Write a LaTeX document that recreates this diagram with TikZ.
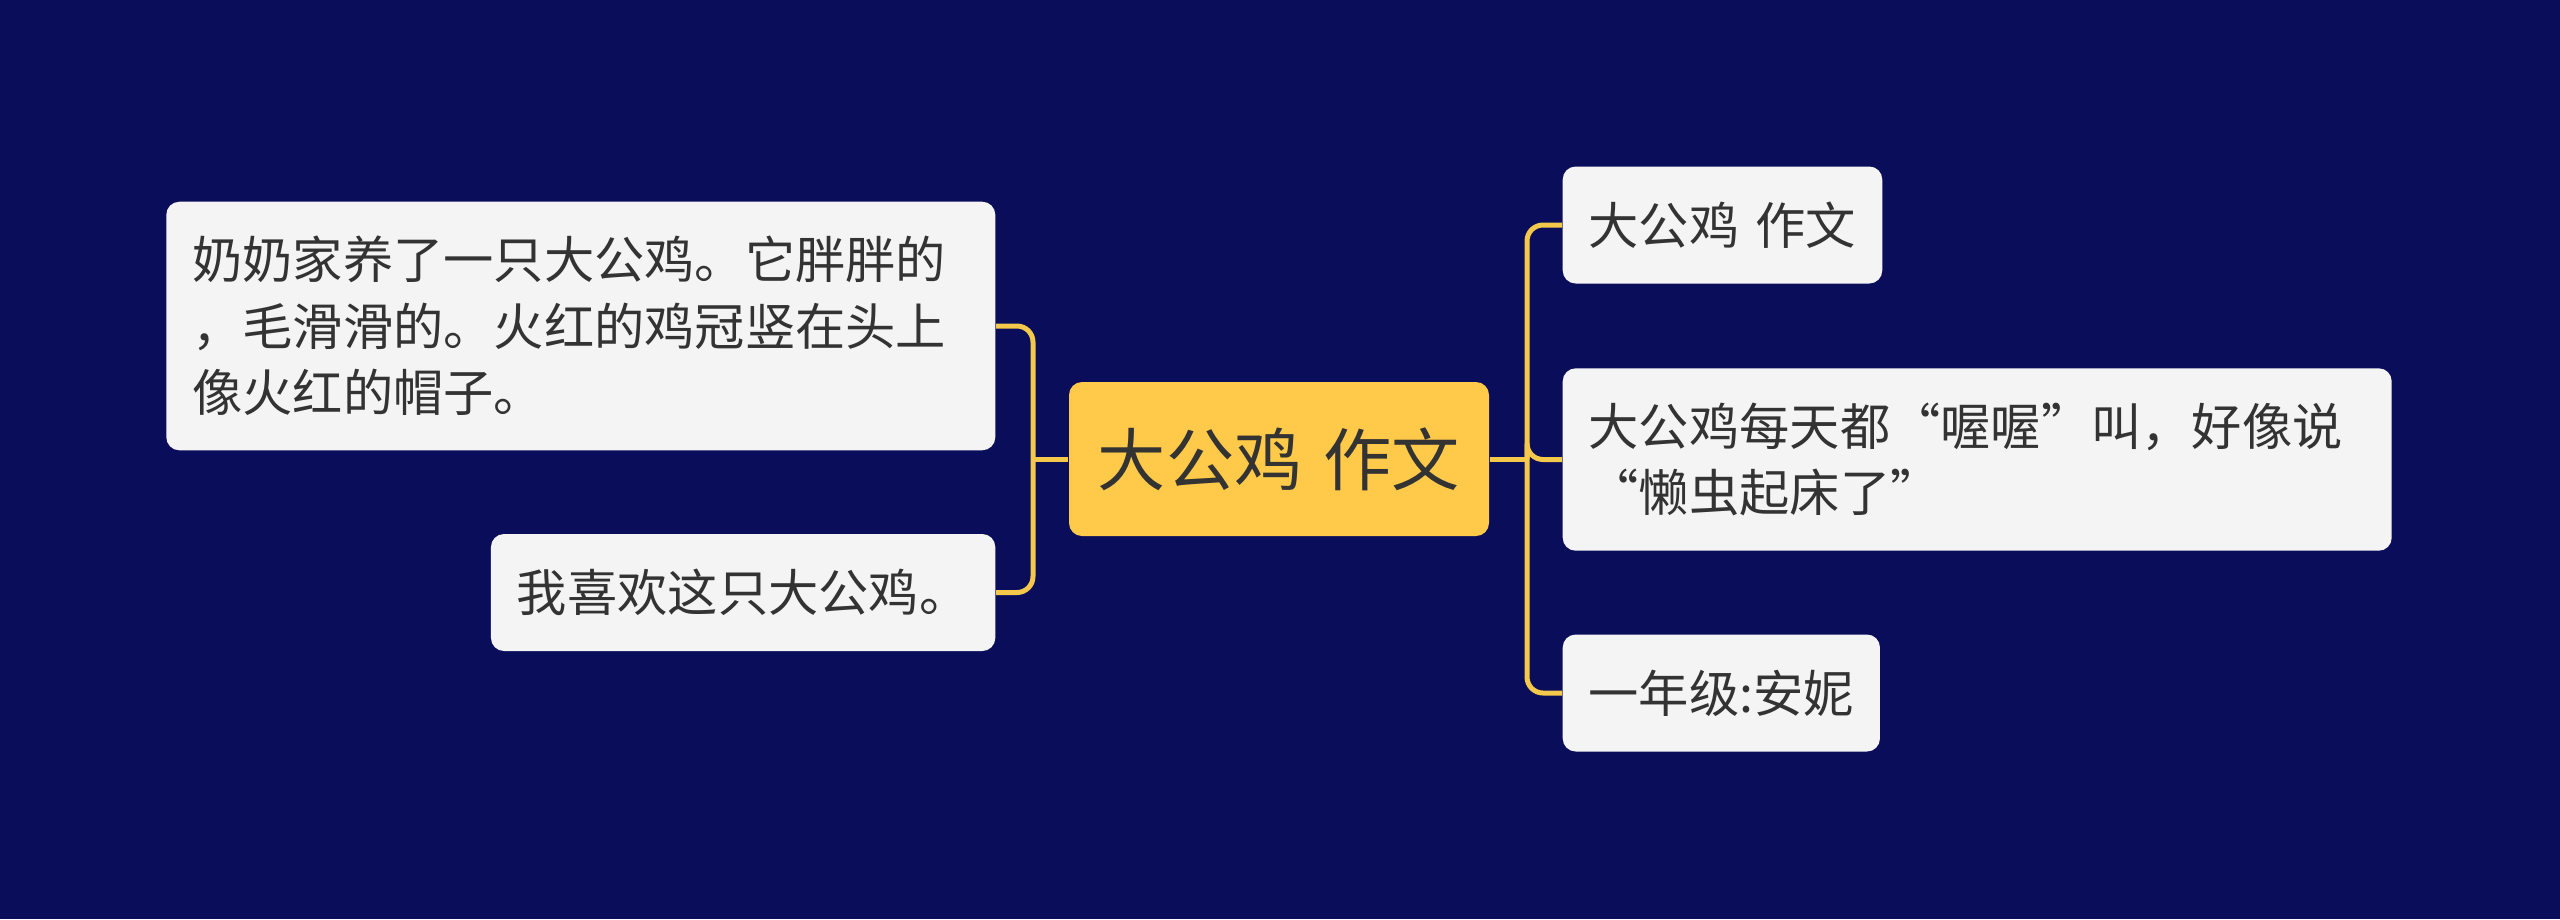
\documentclass[tikz,border=0pt]{standalone}
\usepackage{fontspec, xcolor}
\newfontfamily\cjk{Noto Sans CJK SC}
\definecolor{navy}{HTML}{0A0E5A}
\definecolor{gold}{HTML}{FFCA4A}
\definecolor{linegold}{HTML}{F4C84A}
\definecolor{leafgray}{HTML}{F4F4F4}
\definecolor{ink}{HTML}{333333}

\begin{document}
\begin{tikzpicture}[
  x=0.1mm, y=-0.1mm,
  topic/.style={fill=gold, rounded corners=1.3mm, minimum width=42mm, minimum height=15.4mm,
                text=ink, font=\cjk\fontsize{19.4pt}{23pt}\selectfont},
  subtopic/.style={fill=leafgray, rounded corners=1.3mm, inner xsep=2.6mm, inner ysep=3.45mm,
                   minimum height=11.7mm, align=left, text=ink,
                   font=\cjk\fontsize{14.3pt}{18.9pt}\selectfont},
  link/.style={draw=linegold, line width=0.5mm, rounded corners=1.6mm}
]
% background
\fill[navy] (0,0) rectangle (2560,919);
% centre
\node[topic] (main) at (1279,459) {大公鸡\hspace{0.6mm} 作文};
% right side
\node[subtopic, anchor=west] (title) at (1562,225) {大公鸡\hspace{0.5mm} 作文};
\node[subtopic, anchor=west, text width=77.7mm] (crow) at (1562,459.5)
  {大公鸡每天都“喔喔”叫，好像说\\“懒虫起床了”};
\node[subtopic, anchor=west] (author) at (1562,693) {一年级:安妮};
% left side
\node[subtopic, anchor=east, text width=77.7mm] (grandma) at (996,326)
  {奶奶家养了一只大公鸡。它胖胖的\\，毛滑滑的。火红的鸡冠竖在头上\\像火红的帽子。};
\node[subtopic, anchor=east] (like) at (996,592.5) {我喜欢这只大公鸡。};
% connectors
\coordinate (rj) at (1527,459);
\coordinate (lj) at (1033,459);
\draw[link] (main.east) -- (rj);
\draw[link] (rj) |- (title.west);
\draw[link] (rj) |- (crow.west);
\draw[link] (rj) |- (author.west);
\draw[link] (main.west) -- (lj);
\draw[link] (lj) |- (grandma.east);
\draw[link] (lj) |- (like.east);
\end{tikzpicture}
\end{document}
